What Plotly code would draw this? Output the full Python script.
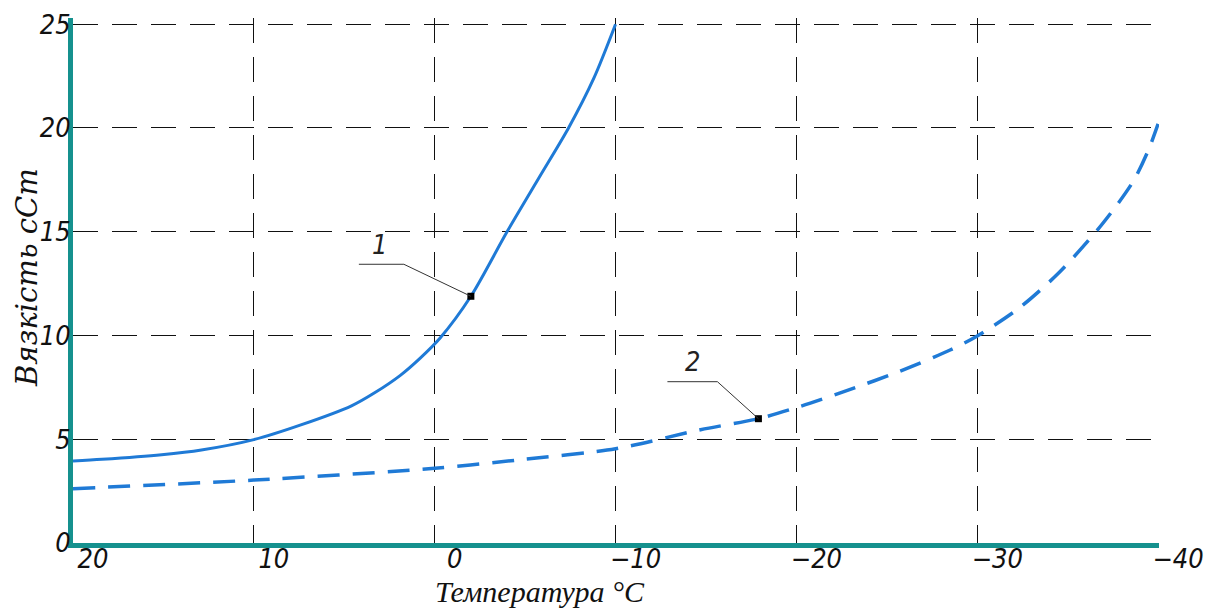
import plotly.graph_objects as go

# Curve 1 (solid)
temp_1 = [20, 18.4, 15.1, 12.9, 10.0, 7.4, 4.6, 3.3, 1.9, 0.8, -0.3, -2.0, -4.0, -5.8, -7.4, -8.8, -10.0]
visc_1 = [3.95, 4.03, 4.25, 4.48, 4.98, 5.69, 6.61, 7.25, 8.08, 8.91, 9.88, 11.89, 15.0, 17.65, 20.0, 22.4, 25.0]

# Curve 2 (dashed)
temp_2 = [20, 10.0, 0.0, -4.7, -10.0, -14.7, -17.9, -20.2, -22.9, -25.7, -28.5, -30.0, -32.3, -34.5, -36.6, -37.8, -38.7, -39.5, -40.0]
visc_2 = [2.62, 3.03, 3.60, 4.01, 4.54, 5.46, 5.99, 6.58, 7.38, 8.27, 9.3, 9.98, 11.31, 13.01, 15.04, 16.38, 17.54, 19.01, 20.2]

# Marked points with labels
mark_labels = ["1", "2"]
mark_temp = [-2.0, -17.9]
mark_visc = [11.89, 5.99]

x_ticks = [20, 10, 0, -10, -20, -30, -40]
x_ticktext = ["20", "10", "0", "\u221210", "\u221220", "\u221230", "\u221240"]
y_ticks = [0, 5, 10, 15, 20, 25]

BLUE = "#1f7ad6"
TEAL = "#15918e"
NARROW = "Liberation Sans Narrow, DejaVu Sans Condensed, Arial Narrow, sans-serif"
TICKFONT = dict(family=NARROW, size=27, color="#111111", style="italic")

fig = go.Figure()
fig.add_trace(go.Scatter(x=temp_1, y=visc_1, mode="lines",
                         line=dict(color=BLUE, width=3, shape="spline", smoothing=0.8),
                         showlegend=False, cliponaxis=False))
fig.add_trace(go.Scatter(x=temp_2, y=visc_2, mode="lines",
                         line=dict(color=BLUE, width=3.5, dash="22px,13px", shape="spline", smoothing=0.8),
                         showlegend=False, cliponaxis=False))
fig.add_trace(go.Scatter(x=mark_temp, y=mark_visc, mode="markers",
                         marker=dict(symbol="square", size=7, color="black"),
                         showlegend=False, cliponaxis=False))

# leader lines anchored at the marked points (pixel offsets)
leader_paths = ["M0,0 L-67,32 L-112,32", "M0,0 L-41,37 L-91,37"]
label_shift = [(-91, 52), (-66, 57)]
for lab, xt, yv, path, (dx, dy) in zip(mark_labels, mark_temp, mark_visc, leader_paths, label_shift):
    fig.add_shape(type="path", xref="x", yref="y", xsizemode="pixel", ysizemode="pixel",
                  xanchor=xt, yanchor=yv, path=path, line=dict(color="#333333", width=1))
    fig.add_annotation(x=xt, y=yv, xref="x", yref="y", text=lab, showarrow=False,
                       xshift=dx, yshift=dy,
                       font=dict(family=NARROW, size=27, color="#222222", style="italic"))

# axis titles
fig.add_annotation(x=0.43, y=-0.0933, xref="paper", yref="paper", text="Температура °C", showarrow=False,
                   xanchor="center", yanchor="middle",
                   font=dict(family="Liberation Serif, serif", size=30, color="#111111", style="italic"))
fig.add_annotation(x=-0.0423, y=0.505, xref="paper", yref="paper", text="Вязкість сСт", showarrow=False,
                   textangle=-90, xanchor="center", yanchor="middle",
                   font=dict(family="DejaVu Serif, serif", size=29, color="#111111", style="italic"))

fig.update_xaxes(range=[20, -40.05], tickvals=x_ticks, ticktext=x_ticktext, tickfont=TICKFONT,
                 showline=True, linecolor=TEAL, linewidth=5, ticks="", ticklabelshift=-20,
                 ticklabelstandoff=-12, automargin=False, ticklabeloverflow="allow",
                 showgrid=True, gridcolor="#111111", gridwidth=1, griddash="25px,14px",
                 zeroline=False)
fig.update_yaxes(range=[0, 25.3], tickvals=y_ticks, tickfont=TICKFONT,
                 showline=True, linecolor=TEAL, linewidth=5, ticks="", ticklabelstandoff=-8,
                 automargin=False, ticklabeloverflow="allow",
                 showgrid=True, gridcolor="#111111", gridwidth=1, griddash="25px,14px",
                 zeroline=False)

fig.update_layout(width=1206, height=605, margin=dict(l=65, r=55, t=10, b=70),
                  plot_bgcolor="white", paper_bgcolor="white")

fig.write_html("out.html")
